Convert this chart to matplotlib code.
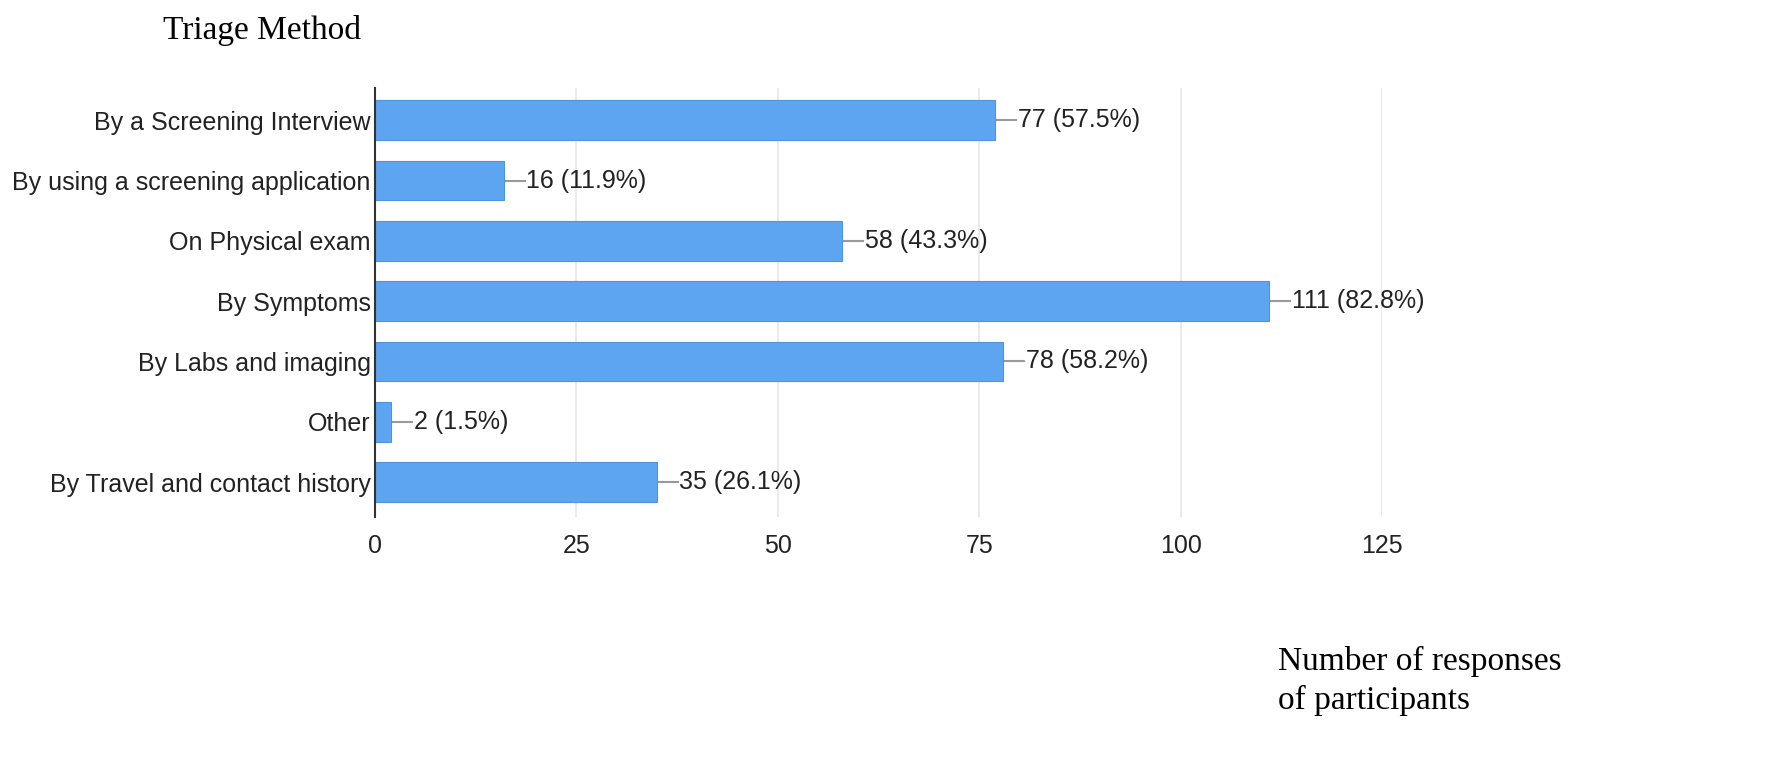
import numpy as np
import matplotlib.pyplot as plt

categories = [
    "By a Screening Interview",
    "By using a screening application",
    "On Physical exam",
    "By Symptoms",
    "By Labs and imaging",
    "Other",
    "By Travel and contact history",
]
counts = [77, 16, 58, 111, 78, 2, 35]
percents = [57.5, 11.9, 43.3, 82.8, 58.2, 1.5, 26.1]
xticks = [0, 25, 50, 75, 100, 125]

fig = plt.figure(figsize=(17.72, 7.61), dpi=100)
ax = fig.add_axes([0.2116, 0.3206, 0.5683, 0.5634])

y = np.arange(len(categories))
ax.barh(y, counts, height=0.66, color="#5da5f0", edgecolor="#4d94e0", linewidth=0.8, zorder=3)

# leader line + value label at the end of each bar
for yi, c, p in zip(y, counts, percents):
    ax.plot([c, c + 2.6], [yi, yi], color="#999999", lw=1.5, zorder=2)
    ax.text(c + 2.8, yi, f"{c} ({p}%)", va="center", ha="left",
            fontsize=18, family="Liberation Sans", color="#222222")

ax.set_xlim(0, 125)
ax.set_ylim(6.58, -0.53)
ax.set_xticks(xticks)
ax.set_yticks(y)
ax.set_yticklabels(categories)
ax.tick_params(axis="both", length=0, labelsize=18, colors="#222222")
ax.tick_params(axis="x", pad=12)
ax.tick_params(axis="y", pad=3)
for lab in ax.get_xticklabels() + ax.get_yticklabels():
    lab.set_family("Liberation Sans")

ax.grid(axis="x", color="#e6e6e6", lw=1.2, zorder=0)
for s in ["top", "right", "bottom"]:
    ax.spines[s].set_visible(False)
ax.spines["left"].set_color("#333333")
ax.spines["left"].set_linewidth(1.5)
ax.spines["left"].set_zorder(4)

fig.text(163 / 1772, 1 - 30 / 761, "Triage Method", family="Liberation Serif",
         fontsize=24, va="center", ha="left", color="black")
fig.text(1278 / 1772, 1 - 681 / 761, "Number of responses\nof participants",
         family="Liberation Serif", fontsize=24, va="center", ha="left",
         linespacing=1.32, color="black")

fig.savefig("out.png", dpi=100)
